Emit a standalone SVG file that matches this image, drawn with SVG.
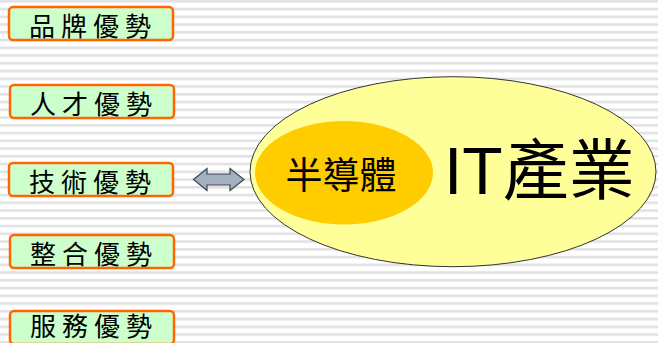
<svg xmlns="http://www.w3.org/2000/svg" width="658" height="343" viewBox="0 0 658 343">
<defs>
<pattern id="stripes" x="0" y="0" width="16" height="7.75" patternUnits="userSpaceOnUse">
<rect x="0" y="0" width="16" height="7.75" fill="#ffffff"/>
<rect x="0" y="0" width="16" height="2.6" fill="#e2e2e2"/>
</pattern>
<style>
.box{fill:#ccffcc;stroke:#ff6600;stroke-width:2.5}
.lbl{font-family:"Noto Sans CJK TC","Noto Sans CJK SC",sans-serif;font-size:26px;letter-spacing:6px;fill:#000}
</style>
</defs>
<rect width="658" height="343" fill="url(#stripes)"/>
<g id="n1"><rect class="box" x="9" y="7" width="164" height="33" rx="4"/><text class="lbl" x="29" y="35.5">品牌優勢</text></g>
<g id="n2"><rect class="box" x="10" y="85" width="164" height="33" rx="4"/><text class="lbl" x="30" y="113.5">人才優勢</text></g>
<g id="n3"><rect class="box" x="9" y="163" width="164" height="33" rx="4"/><text class="lbl" x="29" y="191.5">技術優勢</text></g>
<g id="n4"><rect class="box" x="10" y="235" width="164" height="33" rx="4"/><text class="lbl" x="30" y="263.5">整合優勢</text></g>
<g id="n5"><rect class="box" x="10" y="311" width="164" height="33" rx="4"/><text class="lbl" x="30" y="335.5">服務優勢</text></g>
<g id="connectors">
<polygon points="193.5,179.5 207,168.5 207,174 230,174 230,168.5 244,179.5 230,190.5 230,185 207,185 207,190.5" fill="#a3b0c0" stroke="#3c4650" stroke-width="1.2" stroke-linejoin="miter"/>
</g>
<g id="it">
<ellipse cx="453" cy="171.7" rx="203" ry="95" fill="#ffff99" stroke="#333333" stroke-width="1"/>
<text x="444" y="194" font-size="66" fill="#000"><tspan font-family="'Liberation Sans',sans-serif">IT</tspan><tspan font-family="'Noto Sans CJK TC','Noto Sans CJK SC',sans-serif">產業</tspan></text>
</g>
<g id="semi">
<ellipse cx="344" cy="172.7" rx="89" ry="51.7" fill="#ffcc00"/>
<text x="341" y="189" font-size="37" text-anchor="middle" font-family="'Noto Sans CJK TC','Noto Sans CJK SC',sans-serif" fill="#000">半導體</text>
</g>
</svg>
